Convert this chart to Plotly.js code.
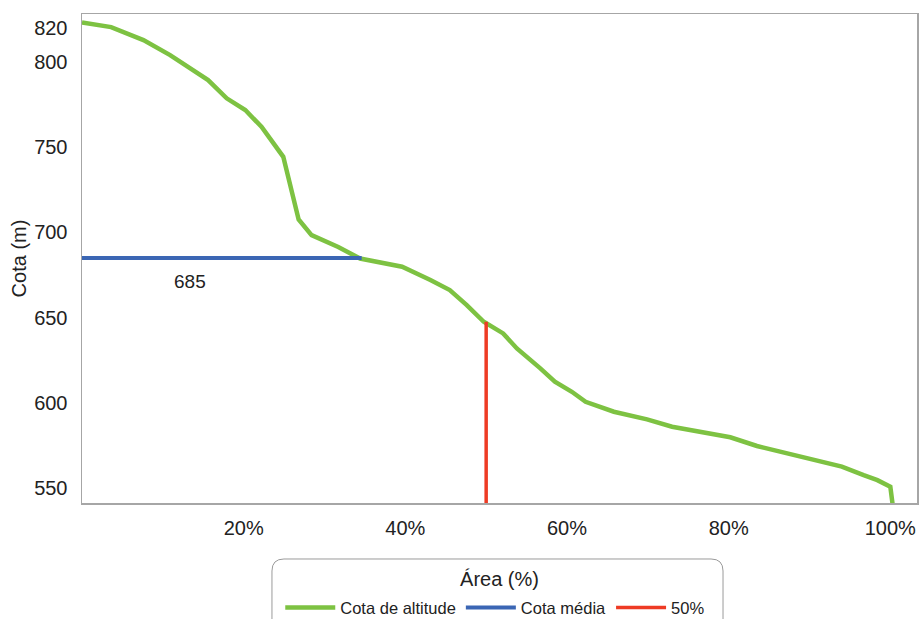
<!DOCTYPE html>
<html>
<head>
<meta charset="utf-8">
<script src="https://cdn.plot.ly/plotly-3.0.1.min.js"></script>
<style>
  html, body { margin: 0; padding: 0; background: #ffffff; }
  #chart { width: 924px; height: 619px; }
</style>
</head>
<body>
<div id="chart"></div>
<script>
// Hypsometric curve: area (%) vs altitude (m)
const areaPct = [0, 3.6, 7.6, 10.9, 15.6, 17.9, 20.2, 22.2, 24.9, 25.5, 26.2, 26.8, 28.4, 31.7, 34.4,
  39.6, 43.1, 45.5, 47.6, 49.7, 52.1, 53.8, 56.7, 58.5, 60.6, 62.3, 65.8, 69.9, 73.0, 76.5,
  80.2, 83.5, 87.2, 90.9, 94.0, 96.7, 98.4, 100.0, 100.3];
const altitude = [823, 820.3, 812.7, 803.9, 789.3, 778.6, 771.7, 761.9, 744.3, 733.0, 720.9, 707.6, 698.4, 691.4, 684.7,
  679.9, 672.1, 666.2, 657.4, 647.6, 640.8, 632.0, 620.3, 612.5, 606.6, 600.7, 594.9, 590.4, 586.1, 583.2,
  579.9, 574.8, 570.5, 566.6, 562.7, 557.7, 554.8, 550.9, 540];

const meanX = [0, 34.6];
const meanY = [685, 685];
const meanLabel = "685";

const halfX = [50, 50];
const halfY = [647.6, 530];

const seriesNames = ["Cota de altitude", "Cota média", "50%"];

const xTickVals = [20, 40, 60, 80, 100];
const xTickText = ["20%", "40%", "60%", "80%", "100%"];
const yTickVals = [550, 600, 650, 700, 750, 800, 820];
const yTickText = ["550", "600", "650", "700", "750", "800", "820"];

const FONT = "Liberation Sans, Arial, sans-serif";

const traces = [
  { x: areaPct, y: altitude, name: seriesNames[0], type: "scatter", mode: "lines",
    line: { color: "#7dc242", width: 4.5 } },
  { x: meanX, y: meanY, name: seriesNames[1], type: "scatter", mode: "lines",
    line: { color: "#3b66b4", width: 4 } },
  { x: halfX, y: halfY, name: seriesNames[2], type: "scatter", mode: "lines",
    line: { color: "#ee3b24", width: 3.5 } }
];

// rounded legend frame (paper coords)
const bx0 = 0.2275, bx1 = 0.7677, bt = -0.1145, bb = -0.32;
const rx = 12 / 835, ry = 12 / 489;
const framePath = `M ${bx0},${bb} L ${bx0},${bt - ry} Q ${bx0},${bt} ${bx0 + rx},${bt} ` +
  `L ${bx1 - rx},${bt} Q ${bx1},${bt} ${bx1},${bt - ry} L ${bx1},${bb}`;

const layout = {
  width: 924, height: 619,
  margin: { l: 82, r: 7, t: 14, b: 116 },
  paper_bgcolor: "#ffffff", plot_bgcolor: "#ffffff",
  font: { family: FONT, color: "#222222", size: 20 },
  showlegend: true,
  legend: {
    orientation: "h", xref: "container", yref: "container",
    x: 0.536, xanchor: "center", y: 0.018, yanchor: "middle",
    font: { size: 16.5, color: "#222" },
    itemwidth: 50, bgcolor: "rgba(0,0,0,0)", borderwidth: 0
  },
  xaxis: {
    range: [0, 103.3], tickvals: xTickVals, ticktext: xTickText,
    showgrid: false, zeroline: false, showline: true, mirror: true,
    linecolor: "#a6a6a6", linewidth: 1.5, ticks: "",
    tickfont: { size: 20, color: "#222" }, ticklabelstandoff: 6,
    automargin: false,
    title: { text: "Área (%)", font: { size: 20, color: "#222" }, standoff: 34 }
  },
  yaxis: {
    range: [541.4, 828], tickvals: yTickVals, ticktext: yTickText,
    showgrid: false, zeroline: false, showline: true, mirror: true,
    linecolor: "#a6a6a6", linewidth: 1.5, ticks: "",
    tickfont: { size: 20, color: "#222" }, ticklabelstandoff: 9,
    automargin: false,
    title: { text: "Cota (m)", font: { size: 20, color: "#222" }, standoff: 2 }
  },
  annotations: [
    { x: 13.4, y: 671.5, xref: "x", yref: "y", text: meanLabel, showarrow: false,
      font: { size: 19, color: "#222" } }
  ],
  shapes: [
    { type: "path", xref: "paper", yref: "paper", path: framePath,
      line: { color: "#9a9a9a", width: 1 }, layer: "above" }
  ]
};

Plotly.newPlot("chart", traces, layout, { displayModeBar: false, staticPlot: true });
</script>
</body>
</html>
